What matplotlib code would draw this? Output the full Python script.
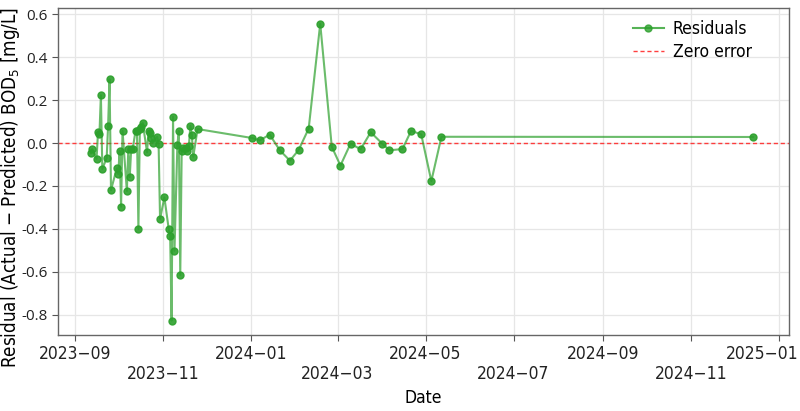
import matplotlib
matplotlib.use("Agg")
import matplotlib.pyplot as plt
import matplotlib.dates as mdates
import matplotlib.transforms as mtransforms
import pandas as pd

dates = [
    "2023-09-12", "2023-09-13", "2023-09-16", "2023-09-17", "2023-09-18", "2023-09-19",
    "2023-09-20", "2023-09-23", "2023-09-24", "2023-09-25", "2023-09-26", "2023-09-30",
    "2023-10-01", "2023-10-02", "2023-10-03", "2023-10-04", "2023-10-07", "2023-10-08",
    "2023-10-09", "2023-10-10", "2023-10-11", "2023-10-13", "2023-10-14", "2023-10-15",
    "2023-10-16", "2023-10-17", "2023-10-18", "2023-10-21", "2023-10-22", "2023-10-23",
    "2023-10-24", "2023-10-25", "2023-10-28", "2023-10-29", "2023-10-30", "2023-11-02",
    "2023-11-05", "2023-11-06", "2023-11-07", "2023-11-08", "2023-11-09", "2023-11-11",
    "2023-11-12", "2023-11-13", "2023-11-14", "2023-11-15", "2023-11-17", "2023-11-18",
    "2023-11-19", "2023-11-20", "2023-11-21", "2023-11-22", "2023-11-25",
    "2024-01-02", "2024-01-07", "2024-01-14", "2024-01-21", "2024-01-28", "2024-02-03",
    "2024-02-10", "2024-02-18", "2024-02-26", "2024-03-03", "2024-03-10", "2024-03-17",
    "2024-03-24", "2024-04-01", "2024-04-06", "2024-04-15", "2024-04-21", "2024-04-28",
    "2024-05-05", "2024-05-12", "2024-12-14",
]
residuals = [
    -0.048, -0.028, -0.074, 0.050, 0.042, 0.222,
    -0.121, -0.070, 0.080, 0.296, -0.219, -0.118,
    -0.144, -0.036, -0.296, 0.056, -0.223, -0.029,
    -0.158, -0.029, -0.029, 0.056, 0.056, -0.400,
    0.064, 0.076, 0.093, -0.043, 0.056, 0.048,
    0.023, 0.001, 0.029, -0.005, -0.353, -0.253,
    -0.400, -0.431, -0.826, 0.122, -0.501, -0.009,
    0.056, -0.614, -0.036, -0.022, -0.022, -0.036,
    -0.012, 0.080, 0.039, -0.064, 0.065,
    0.023, 0.012, 0.039, -0.034, -0.082, -0.033,
    0.067, 0.555, -0.017, -0.105, -0.003, -0.029,
    0.050, -0.003, -0.034, -0.028, 0.057, 0.040,
    -0.177, 0.029, 0.028,
]
y_ticks = [-0.8, -0.6, -0.4, -0.2, 0.0, 0.2, 0.4, 0.6]

plt.rcParams['font.family'] = ['DejaVu Sans']
plt.rcParams['font.stretch'] = 'condensed'
plt.rcParams['mathtext.fontset'] = 'dejavusans'
plt.rcParams['axes.unicode_minus'] = False

x = pd.to_datetime(dates)

fig = plt.figure(figsize=(8, 4.11), dpi=100)
ax = fig.add_axes([0.072, 0.185, 0.9145, 0.7955])

ax.plot(x, residuals, color='#2ca02c', alpha=0.7, linewidth=1.5, zorder=3)
ax.plot(x, residuals, linestyle='none', marker='o', markersize=5,
        color='#2ca02c', alpha=0.9, zorder=4)
ax.plot([], [], color='#2ca02c', alpha=0.8, linewidth=1.5, marker='o',
        markersize=5, label='Residuals')
ax.axhline(0, color='#ff2a2a', linestyle='--', linewidth=1.0, alpha=0.9,
           dashes=(3, 2), label='Zero error', zorder=2)

ax.set_ylim(-0.893, 0.628)
ax.set_xlim(pd.Timestamp("2023-08-20"), pd.Timestamp("2025-01-08"))
ax.set_yticks(y_ticks)
ax.set_yticklabels([f"{v:.1f}" for v in y_ticks], family='Open Sans', stretch='normal')

ax.xaxis.set_major_locator(mdates.MonthLocator(bymonth=[1, 3, 5, 7, 9, 11]))

def fmt(val, pos):
    d = mdates.num2date(val)
    s = f"{d.year}\u2212{d.month:02d}"
    return s if d.month in (1, 5, 9) else "\n" + s

ax.xaxis.set_major_formatter(plt.FuncFormatter(fmt))

ax.tick_params(axis='x', labelsize=12.5, pad=3)
ax.tick_params(axis='y', labelsize=11, pad=3)
ax.tick_params(colors='#222222', length=4, color='#555555')
ax.grid(True, color='#e6e6e6', linewidth=0.9)
ax.set_axisbelow(True)
for s in ax.spines.values():
    s.set_color('#666666')
    s.set_linewidth(1.0)

ax.set_xlabel('Date', fontsize=12.5, labelpad=4)
ax.set_ylabel('Residual (Actual \u2212 Predicted) BOD$_5$ [mg/L]', fontsize=13.5)
ax.yaxis.set_label_coords(-0.049, 0.45)

ax.legend(loc='upper right', frameon=False, fontsize=12.5, handlelength=1.8,
          labelspacing=0.25, handletextpad=0.5, bbox_to_anchor=(0.97, 1.01))

fig.canvas.draw()
for lbl in ax.get_xticklabels():
    if lbl.get_text().startswith("2025"):
        lbl.set_transform(lbl.get_transform() +
                          mtransforms.ScaledTranslation(-0.17, 0, fig.dpi_scale_trans))

fig.savefig('out.png', dpi=100)
